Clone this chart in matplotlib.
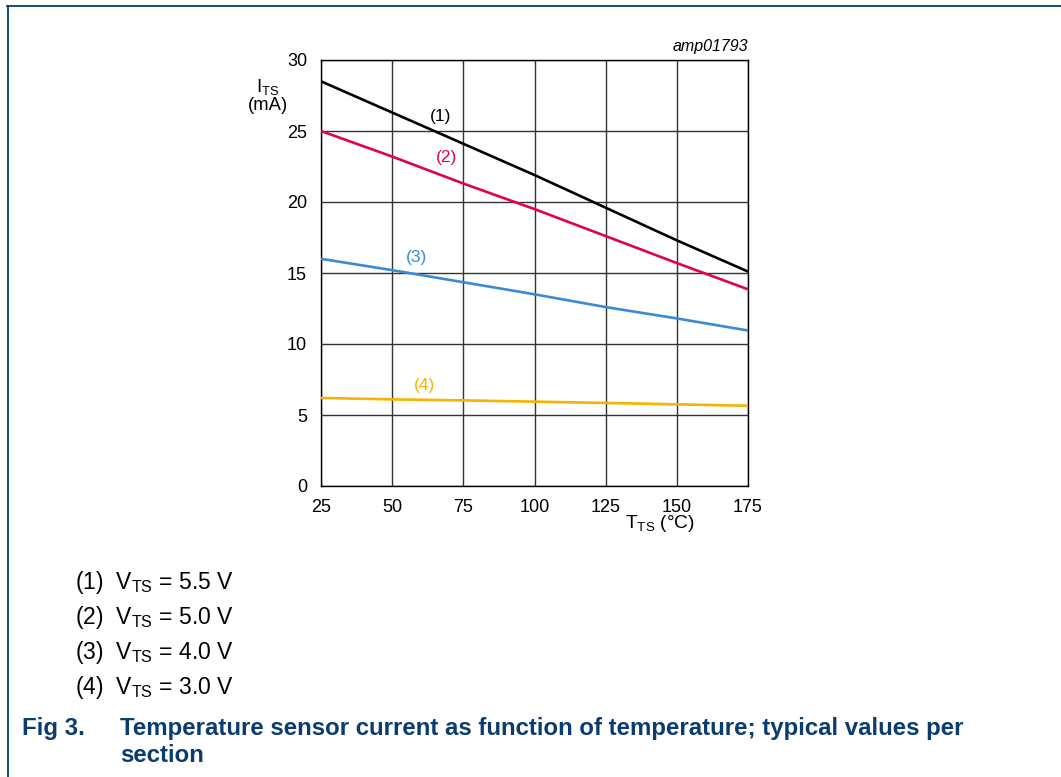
import matplotlib
matplotlib.use("Agg")
import matplotlib.pyplot as plt
from matplotlib.lines import Line2D

plt.rcParams['font.family'] = ['Liberation Sans', 'DejaVu Sans']

temps = [25, 50, 75, 100, 125, 150, 175]
i_55 = [28.5, 26.3, 24.1, 21.9, 19.6, 17.3, 15.1]
i_50 = [25.0, 23.2, 21.3, 19.5, 17.6, 15.7, 13.85]
i_40 = [16.0, 15.2, 14.35, 13.5, 12.6, 11.8, 10.95]
i_30 = [6.2, 6.1, 6.03, 5.94, 5.85, 5.75, 5.65]

series = [i_55, i_50, i_40, i_30]
labels = ["(1)", "(2)", "(3)", "(4)"]
colors = ["#000000", "#e2004f", "#3a8bd3", "#f5b400"]
label_pos = [(67, 26.0), (69, 23.1), (58.5, 16.1), (61.5, 7.1)]
legend_texts = [r"(1)  V$_{\mathregular{TS}}$ = 5.5 V",
                r"(2)  V$_{\mathregular{TS}}$ = 5.0 V",
                r"(3)  V$_{\mathregular{TS}}$ = 4.0 V",
                r"(4)  V$_{\mathregular{TS}}$ = 3.0 V"]

xticks = [25, 50, 75, 100, 125, 150, 175]
yticks = [0, 5, 10, 15, 20, 25, 30]

fig = plt.figure(figsize=(10.61, 7.77), dpi=100)
ax = fig.add_axes([321/1061, 1-486/777, (748-321)/1061, (486-60)/777])

for ys, c in zip(series, colors):
    ax.plot(temps, ys, color=c, lw=1.9, solid_capstyle='butt', zorder=3)
for (lx, ly), lab, c in zip(label_pos, labels, colors):
    ax.text(lx, ly, lab, color=c, fontsize=12.5, ha='center', va='center')

ax.set_xlim(25, 175)
ax.set_ylim(0, 30)
ax.set_xticks(xticks)
ax.set_yticks(yticks)
ax.grid(True, color='#333333', lw=1.0, zorder=1)
ax.tick_params(axis='x', length=0, labelsize=13, pad=9)
ax.tick_params(axis='y', length=0, labelsize=13, pad=10)
for s in ax.spines.values():
    s.set_color('black')
    s.set_linewidth(1.0)

fig.text(748/1061, 1-47/777, "amp01793", style='italic', fontsize=11.5,
         ha='right', va='center')
fig.text(268/1061, 1-87/777, "I$_{\\mathregular{TS}}$", fontsize=13.3,
         ha='center', va='center')
fig.text(268/1061, 1-105/777, "(mA)", fontsize=13.3,
         ha='center', va='center')
fig.text(660/1061, 1-524/777, "T$_{\\mathregular{TS}}$ (°C)", fontsize=13.8,
         ha='center', va='center')

# frame lines
fig.add_artist(Line2D([7/1061, 1.0], [1-6/777, 1-6/777], color='#003f7f', lw=1.3))
fig.add_artist(Line2D([8/1061, 8/1061], [1-6/777, 0.0], color='#003f7f', lw=1.3))

for k, t in enumerate(legend_texts):
    fig.text(75/1061, 1-(582+35.3*k)/777, t, fontsize=16.5, ha='left', va='center')

fig.text(22/1061, 1-728/777, "Fig 3.", fontsize=17.3, weight='bold', color='#0b3c70',
         ha='left', va='center')
fig.text(120/1061, 1-728/777, "Temperature sensor current as function of temperature; typical values per",
         fontsize=17.3, weight='bold', color='#0b3c70', ha='left', va='center')
fig.text(120/1061, 1-756/777, "section", fontsize=17.3, weight='bold', color='#0b3c70',
         ha='left', va='center')

fig.savefig("out.png", dpi=100)
